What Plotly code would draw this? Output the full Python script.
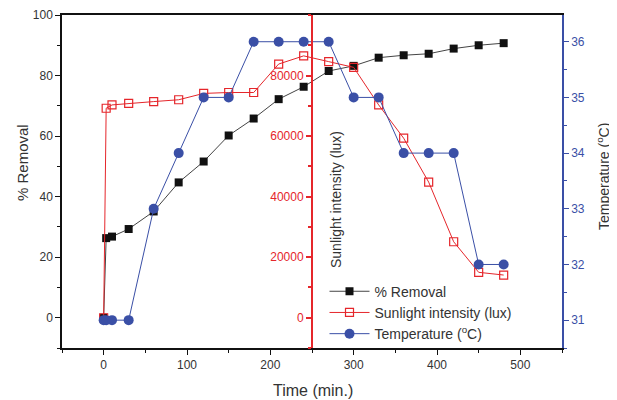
import plotly.graph_objects as go

time = [0, 3, 10, 30, 60, 90, 120, 150, 180, 210, 240, 270, 300, 330, 360, 390, 420, 450, 480]
removal = [0, 26.3, 26.8, 29.3, 35.1, 44.7, 51.6, 60.2, 65.8, 72.2, 76.3, 81.5, 83.2, 85.9, 86.7, 87.2, 88.9, 90.0, 90.7]
sunlight = [0, 69200, 70300, 70800, 71400, 72000, 74100, 74400, 74400, 83800, 86500, 84600, 82700, 70300, 59300, 44800, 25100, 15000, 14100]
temperature = [31, 31, 31, 31, 33, 34, 35, 35, 36, 36, 36, 36, 35, 35, 34, 34, 34, 32, 32]

x_ticks = [0, 100, 200, 300, 400, 500]
removal_ticks = [0, 20, 40, 60, 80, 100]
sun_ticks = [0, 20000, 40000, 60000, 80000]
temp_ticks = [31, 32, 33, 34, 35, 36]

BLACK = "#111111"
RED = "#e5262b"
BLUE = "#3a4fa6"
TXT = "#333333"
FONT = "Liberation Sans, Arial, sans-serif"

# page body has an 8px margin; shift the plot area so it lands on the target pixels
OFF = 8
L, R, T, B = 62 - OFF, 55 + OFF, 15 - OFF, 52 + OFF
W, H = 617, 400

fig = go.Figure()
fig.add_trace(go.Scatter(x=time, y=removal, name="% Removal", mode="lines+markers",
                         line=dict(color="#444444", width=1),
                         marker=dict(symbol="square", size=8, color=BLACK), yaxis="y"))
fig.add_trace(go.Scatter(x=time, y=sunlight, name="Sunlight intensity (lux)", mode="lines+markers",
                         line=dict(color=RED, width=1),
                         marker=dict(symbol="square-open", size=8, color=RED, line=dict(width=1.2)), yaxis="y2"))
fig.add_trace(go.Scatter(x=time, y=temperature, name="Temperature (<sup>o</sup>C)", mode="lines+markers",
                         line=dict(color=BLUE, width=1),
                         marker=dict(symbol="circle", size=10, color=BLUE), yaxis="y3"))

fig.update_layout(
    width=W, height=H,
    margin=dict(l=L, r=R, t=T, b=B, autoexpand=False),
    paper_bgcolor="white", plot_bgcolor="white",
    font=dict(family=FONT, size=12, color=TXT),
    showlegend=True,
    legend=dict(x=0.525, y=-0.005, xanchor="left", yanchor="bottom", bgcolor="rgba(0,0,0,0)",
                font=dict(size=14, color=TXT), tracegroupgap=0, itemwidth=40),
    xaxis=dict(range=[-50, 550], tickvals=x_ticks, showgrid=False, zeroline=False, automargin=False,
               showline=True, linecolor=BLACK, linewidth=1.5, mirror=True,
               ticks="outside", ticklen=5, tickcolor=BLACK,
               minor=dict(ticks="outside", dtick=50, tick0=0, ticklen=3, tickcolor=BLACK),
               tickfont=dict(size=12, color=TXT)),
    yaxis=dict(range=[-10, 100], tickvals=removal_ticks, showgrid=False, zeroline=False, automargin=False,
               showline=True, linecolor=BLACK, linewidth=1.5,
               ticks="outside", ticklen=5, tickcolor=BLACK,
               minor=dict(ticks="outside", dtick=10, tick0=0, ticklen=3, tickcolor=BLACK),
               tickfont=dict(size=12, color=TXT)),
    yaxis2=dict(range=[-10000, 100000], tickvals=sun_ticks, tickformat="d", overlaying="y", anchor="free",
                position=0.5, side="left", showgrid=False, zeroline=False, automargin=False,
                showline=True, linecolor=RED, linewidth=2,
                ticks="outside", ticklen=5, tickcolor=RED, tickwidth=1.5,
                minor=dict(ticks="outside", dtick=10000, tick0=0, ticklen=3, tickcolor=RED, tickwidth=1.5),
                tickfont=dict(size=12, color=RED)),
    yaxis4=dict(range=[-10000, 100000], tickvals=sun_ticks, overlaying="y", anchor="free", position=0.5,
                side="right", showgrid=False, zeroline=False, showticklabels=False, automargin=False,
                showline=False,
                ticks="outside", ticklen=5, tickcolor=RED, tickwidth=1.5,
                minor=dict(ticks="outside", dtick=10000, tick0=0, ticklen=3, tickcolor=RED, tickwidth=1.5)),
    yaxis3=dict(range=[30.5, 36.48], tickvals=temp_ticks, overlaying="y", anchor="x", side="right",
                showgrid=False, zeroline=False, automargin=False,
                showline=True, linecolor=BLUE, linewidth=1.5,
                ticks="outside", ticklen=5, tickcolor=BLUE,
                minor=dict(ticks="outside", dtick=0.5, tick0=31, ticklen=3, tickcolor=BLUE),
                tickfont=dict(size=12, color=BLUE)),
    annotations=[
        dict(text="% Removal", x=22, y=163, textangle=-90, font=dict(size=15, color=TXT)),
        dict(text="Sunlight intensity (lux)", x=336, y=200, textangle=-90, font=dict(size=14, color=TXT)),
        dict(text="Temperature (<sup>o</sup>C)", x=603, y=177, textangle=-90, font=dict(size=14, color=TXT)),
        dict(text="Time (min.)", x=313, y=390, font=dict(size=16, color=TXT)),
    ],
)

# convert target screen pixel positions of annotations into paper coordinates
pw, ph = W - L - R, H - T - B
for a in fig.layout.annotations:
    a.x = (a.x - OFF - L) / pw
    a.y = (H - B - (a.y - OFF)) / ph
    a.xref = "paper"
    a.yref = "paper"
    a.xanchor = "center"
    a.yanchor = "middle"
    a.showarrow = False

fig.write_html("out.html")
